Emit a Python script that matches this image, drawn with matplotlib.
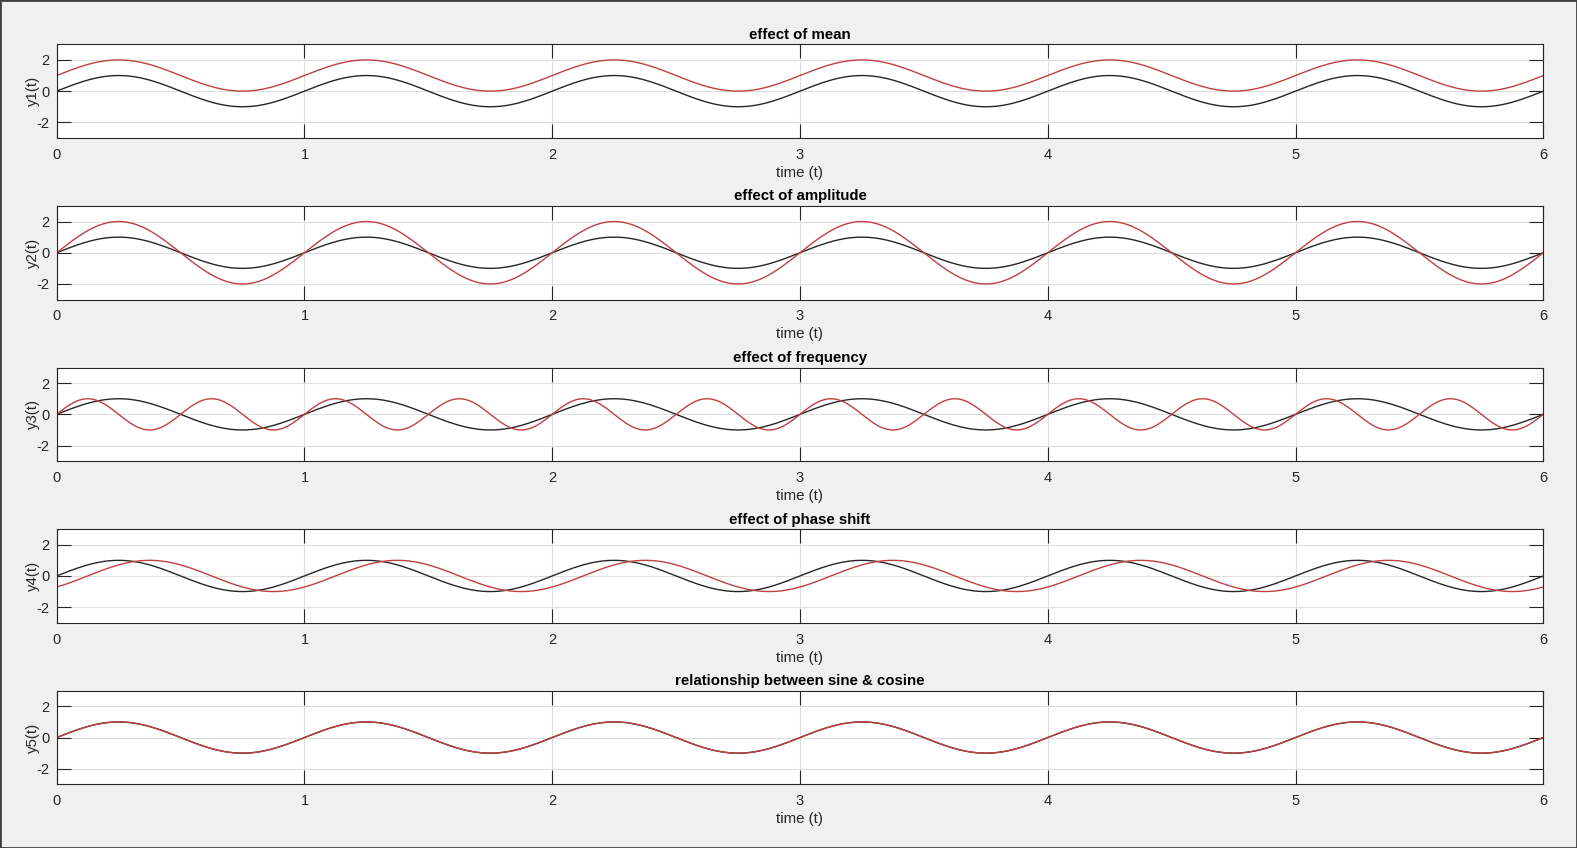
import numpy as np
import matplotlib
matplotlib.use("Agg")
import matplotlib.pyplot as plt
from matplotlib.patches import Rectangle

# ---- data: parameters of each sinusoid (mean, amplitude, frequency, phase) ----
titles = ["effect of mean", "effect of amplitude", "effect of frequency",
          "effect of phase shift", "relationship between sine & cosine"]
ylabels = ["y1(t)", "y2(t)", "y3(t)", "y4(t)", "y5(t)"]
# reference (black) sine: mean 0, amplitude 1, frequency 1 Hz, phase 0
ref_mean = [0, 0, 0, 0, 0]
ref_amp = [1, 1, 1, 1, 1]
ref_freq = [1, 1, 1, 1, 1]
ref_phase = [0, 0, 0, 0, 0]
# modified (red) sinusoid
mod_mean = [1, 0, 0, 0, 0]
mod_amp = [1, 2, 1, 1, 1]
mod_freq = [1, 1, 2, 1, 1]
mod_phase = [0, 0, 0, -np.pi / 4, 0]
mod_is_cos = [False, False, False, False, True]   # panel 5: cos(2*pi*t - pi/2)
cos_shift = [0, 0, 0, 0, -np.pi / 2]
t_start, t_end, n_samples = 0, 6, 1201
xticks = [0, 1, 2, 3, 4, 5, 6]
yticks = [-2, 0, 2]
ylim = (-3, 3)

plt.rcParams['font.family'] = ['Liberation Sans', 'DejaVu Sans']
plt.rcParams['axes.unicode_minus'] = False
W, H = 1577, 848
fig = plt.figure(figsize=(W / 100, H / 100), dpi=100, facecolor='#f0f0f0')

t = np.linspace(t_start, t_end, n_samples)
left = 56.7 / W
width = (1543.3 - 56.7) / W
ax_h = 93.7 / H
tops = [44.3 + i * 161.6 for i in range(5)]

black = '#262626'
red = '#c04040'

for i in range(5):
    bottom = 1 - (tops[i] + 93.7) / H
    ax = fig.add_axes([left, bottom, width, ax_h])
    y_ref = ref_mean[i] + ref_amp[i] * np.sin(2 * np.pi * ref_freq[i] * t + ref_phase[i])
    if mod_is_cos[i]:
        y_mod = mod_mean[i] + mod_amp[i] * np.cos(2 * np.pi * mod_freq[i] * t + cos_shift[i])
    else:
        y_mod = mod_mean[i] + mod_amp[i] * np.sin(2 * np.pi * mod_freq[i] * t + mod_phase[i])
    ax.plot(t, y_ref, color=black, lw=1.0)
    ax.plot(t, y_mod, color=red, lw=1.0)
    ax.set_xlim(t_start, t_end)
    ax.set_ylim(*ylim)
    ax.set_xticks(xticks)
    ax.set_yticks(yticks)
    ax.grid(True, color='#dedede', lw=0.8)
    ax.set_axisbelow(True)
    ax.tick_params(direction='in', length=10, width=0.8, top=True, right=True,
                   labelsize=10.5, colors='#262626')
    ax.tick_params(axis='x', pad=7)
    ax.tick_params(axis='y', pad=5)
    for sp in ax.spines.values():
        sp.set_color('#262626')
        sp.set_linewidth(0.8)
    ax.set_title(titles[i], fontsize=10.8, fontweight='bold', color='black', pad=4)
    ax.set_xlabel("time (t)", fontsize=10.8, color='#262626', labelpad=3)
    ax.set_ylabel(ylabels[i], fontsize=10.8, color='#262626', labelpad=-2)

fig.patches.append(Rectangle((0, 0), 1, 1, transform=fig.transFigure, fill=False,
                             edgecolor='#404040', lw=2, zorder=10))
fig.savefig("out.png", dpi=100, facecolor=fig.get_facecolor())
